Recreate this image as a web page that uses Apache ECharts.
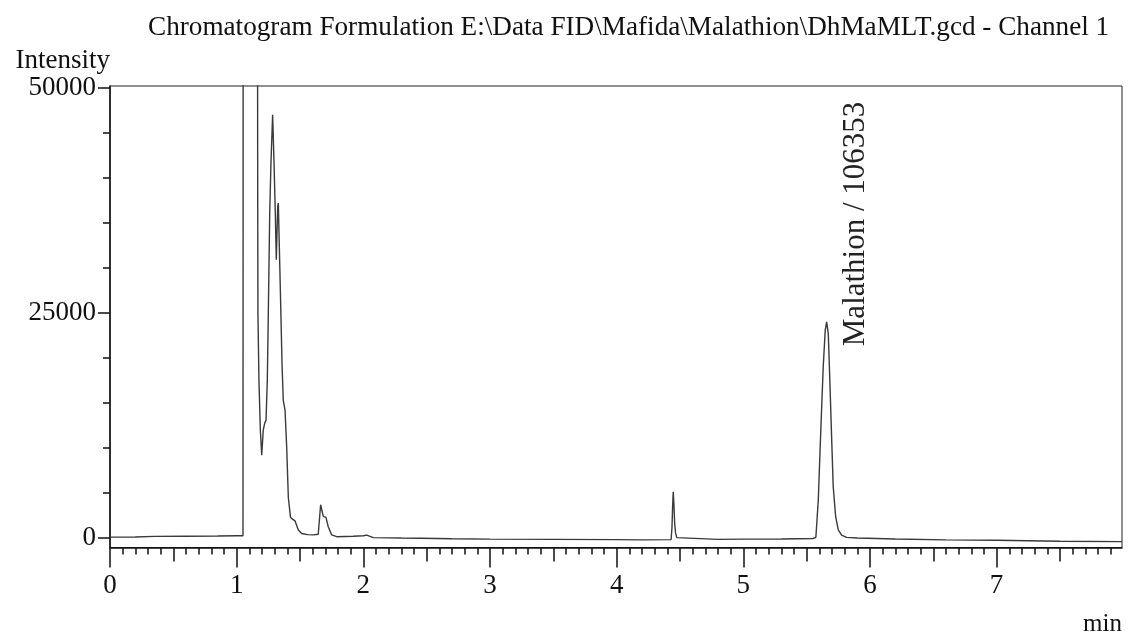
<!DOCTYPE html>
<html>
<head>
<meta charset="utf-8">
<script src="https://cdn.jsdelivr.net/npm/echarts@6/dist/echarts.min.js"></script>
<style>
  html, body { margin: 0; padding: 0; background: #fff; }
  #chart { width: 1136px; height: 643px; }
</style>
</head>
<body>
<div id="chart"></div>
<script>
// FID chromatogram trace: retention time (min) and detector intensity
const retentionTime = [
  0.00, 0.20, 0.35, 0.60, 0.85, 1.00, 1.050,
  1.052, 1.163,
  1.166, 1.168, 1.176, 1.187, 1.198, 1.210, 1.222, 1.232, 1.242, 1.250,
  1.261, 1.271, 1.284, 1.295, 1.305, 1.313, 1.324, 1.329, 1.337, 1.348,
  1.358, 1.368, 1.382, 1.395, 1.408, 1.425, 1.441, 1.461, 1.487, 1.513,
  1.560, 1.605, 1.644, 1.663, 1.684, 1.705, 1.723, 1.750, 1.790, 1.920,
  2.000, 2.027, 2.079, 2.30, 2.45, 2.70, 3.00, 3.50, 4.00, 4.20,
  4.430, 4.437, 4.442, 4.447, 4.452, 4.458, 4.465, 4.475, 4.490,
  4.80, 5.00, 5.30, 5.55,
  5.573, 5.592, 5.611, 5.631, 5.647, 5.658, 5.671, 5.684, 5.698, 5.710,
  5.729, 5.750, 5.776, 5.816,
  5.90, 6.20, 6.60, 7.00, 7.50, 7.99
];
const intensity = [
  100, 120, 180, 200, 220, 250, 260,
  90000, 90000,
  40000, 25000, 17500, 12000, 9200, 12000, 12800, 13100, 17500, 25000,
  36100, 41700, 47000, 41700, 36100, 30900, 36800, 37200, 32300, 25700,
  19400, 15300, 14200, 10100, 4500, 2300, 2100, 1900, 900, 500,
  380, 350, 420, 3700, 2400, 2300, 1250, 350, 150, 200,
  250, 330, 50, 0, -30, -80, -120, -150, -180, -200,
  -180, 1200, 3500, 5150, 3800, 1700, 600, 50, -150,
  -150, -120, -100, -50,
  80, 4200, 11600, 19000, 23100, 24000, 22700, 17200, 10900, 5700,
  2400, 900, 330, 80,
  0, -100, -200, -250, -350, -400
];

// Identified peak and its integrated area
const peakName = 'Malathion';
const peakArea = 106353;
const peakSearchFrom = 5.0;

// Axis ticks and labels
const xMajorTicks = [0, 1, 2, 3, 4, 5, 6, 7];
const yMajorTicks = [0, 25000, 50000];
const yMinorTicks = [5000, 10000, 15000, 20000, 30000, 35000, 40000, 45000];
const xRange = [0, 7.99];
const yRange = [-1050, 50200];

const titleText = 'Chromatogram Formulation E:\\Data FID\\Mafida\\Malathion\\DhMaMLT.gcd - Channel 1';

const FONT = '"Liberation Serif", "Times New Roman", serif';
const INK = '#111';

// half-minute and tenth-minute tick positions
const xHalfTicks = [];
const xTenthTicks = [];
for (let i = 1; i < 80; i++) {
  if (i % 10 === 0) continue;
  if (i % 5 === 0) xHalfTicks.push(i / 10);
  else xTenthTicks.push(i / 10);
}

const trace = retentionTime.map((t, i) => [t, intensity[i]]);

// locate the labelled peak apex
let apex = null;
trace.forEach(p => {
  if (p[0] >= peakSearchFrom && (!apex || p[1] > apex[1])) apex = p;
});

function tickAxis(values, len) {
  return {
    type: 'value', min: xRange[0], max: xRange[1], position: 'bottom',
    axisLine: { show: false, onZero: false },
    axisTick: { show: true, customValues: values, length: len, lineStyle: { color: INK, width: 1.5 } },
    axisLabel: { show: false },
    splitLine: { show: false }
  };
}

const chart = echarts.init(document.getElementById('chart'), null, { renderer: 'canvas' });
chart.setOption({
  animation: false,
  backgroundColor: '#fff',
  title: {
    text: titleText,
    left: 148, top: 14, padding: 0,
    textStyle: { fontFamily: FONT, fontSize: 27.2, fontWeight: 'normal', color: INK }
  },
  grid: {
    left: 110, right: 14, top: 86, bottom: 95.5,
    show: true, borderColor: '#222', borderWidth: 1
  },
  xAxis: [
    {
      type: 'value', min: xRange[0], max: xRange[1], position: 'bottom',
      name: 'min', nameLocation: 'end', nameGap: 0,
      nameTextStyle: { fontFamily: FONT, fontSize: 25, color: INK, align: 'right', verticalAlign: 'top', padding: [64, 0, 0, 0] },
      axisLine: { show: true, onZero: false, lineStyle: { color: INK, width: 1.5 } },
      axisTick: { show: true, customValues: xMajorTicks, length: 20, lineStyle: { color: INK, width: 1.5 } },
      axisLabel: { customValues: xMajorTicks, margin: 25, fontFamily: FONT, fontSize: 27, color: INK },
      splitLine: { show: false }
    },
    tickAxis(xHalfTicks, 14),
    tickAxis(xTenthTicks, 7)
  ],
  yAxis: [
    {
      type: 'value', min: yRange[0], max: yRange[1], position: 'left',
      name: 'Intensity', nameLocation: 'end', nameGap: 12,
      nameTextStyle: { fontFamily: FONT, fontSize: 27, color: INK, align: 'right', verticalAlign: 'bottom' },
      axisLine: { show: true, onZero: false, lineStyle: { color: INK, width: 1.5 } },
      axisTick: { show: true, customValues: yMajorTicks, length: 12, lineStyle: { color: INK, width: 1.5 } },
      axisLabel: {
        customValues: yMajorTicks, margin: 14, fontFamily: FONT, fontSize: 27, color: INK,
        formatter: v => String(v)
      },
      splitLine: { show: false }
    },
    {
      type: 'value', min: yRange[0], max: yRange[1], position: 'left',
      axisLine: { show: false, onZero: false },
      axisTick: { show: true, customValues: yMinorTicks, length: 7, lineStyle: { color: INK, width: 1.5 } },
      axisLabel: { show: false },
      splitLine: { show: false }
    }
  ],
  series: [{
    type: 'line',
    xAxisIndex: 0, yAxisIndex: 0,
    data: trace,
    showSymbol: false, symbol: 'none',
    clip: true,
    lineStyle: { color: '#3a3a3a', width: 1.4 },
    markPoint: {
      symbol: 'circle', symbolSize: 0,
      data: [{ coord: apex, value: peakArea }],
      label: {
        show: true,
        formatter: peakName + ' / ' + peakArea,
        position: 'inside',
        rotate: 90,
        // offset is expressed in the rotated text frame: along the text, then across it
        offset: [98, 29],
        align: 'center', verticalAlign: 'middle',
        fontFamily: FONT, fontSize: 31, color: '#222'
      }
    }
  }]
});
</script>
</body>
</html>
